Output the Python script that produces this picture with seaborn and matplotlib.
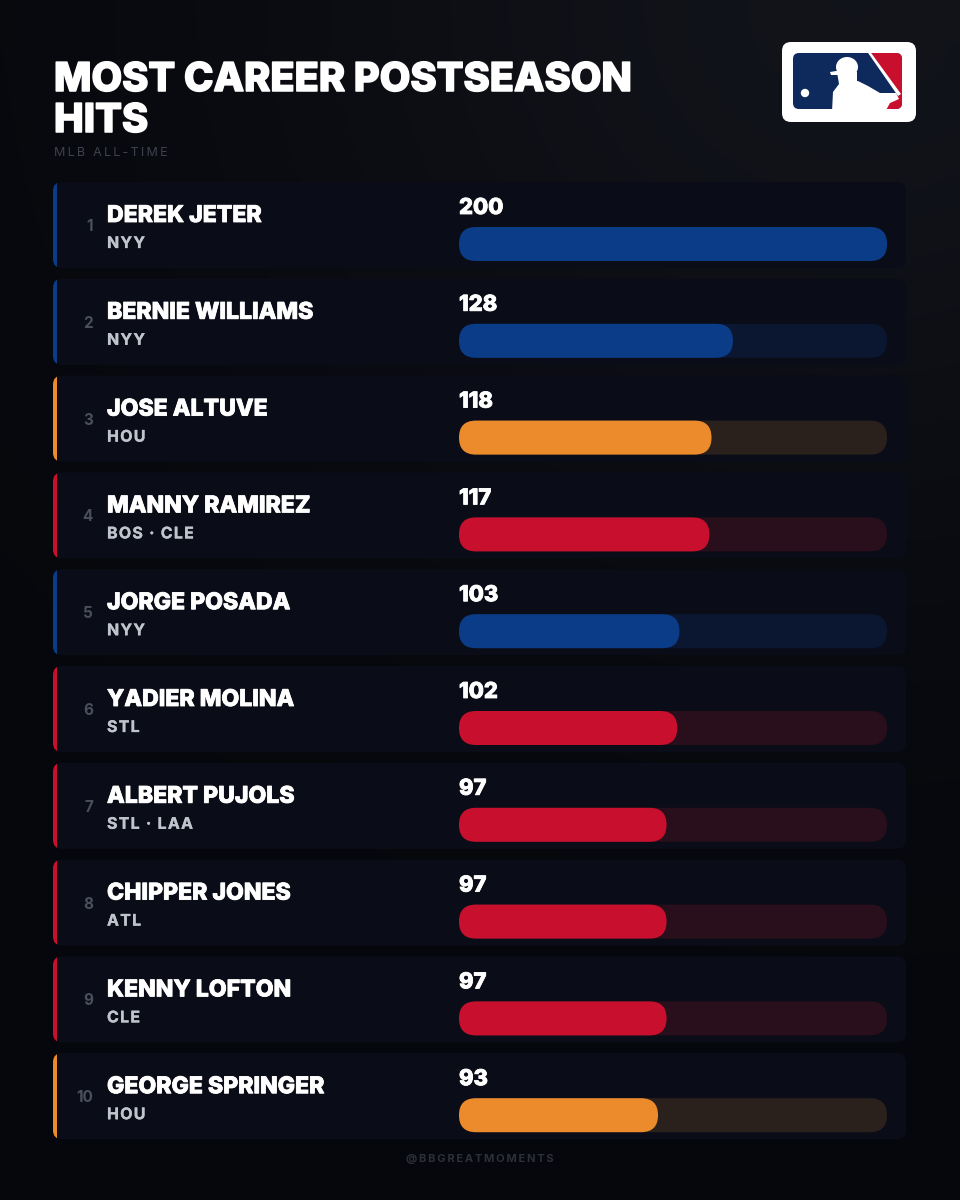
import numpy as np
import pandas as pd
import matplotlib
matplotlib.use("Agg")
import matplotlib.pyplot as plt
import matplotlib.patheffects as pe
import seaborn as sns
from matplotlib.patches import FancyBboxPatch, Circle, Ellipse, Polygon, Rectangle

# ---------------- data ----------------
ranks = [1, 2, 3, 4, 5, 6, 7, 8, 9, 10]
players = ["DEREK JETER", "BERNIE WILLIAMS", "JOSE ALTUVE", "MANNY RAMIREZ",
           "JORGE POSADA", "YADIER MOLINA", "ALBERT PUJOLS", "CHIPPER JONES",
           "KENNY LOFTON", "GEORGE SPRINGER"]
teams = ["NYY", "NYY", "HOU", "BOS · CLE", "NYY", "STL", "STL · LAA", "ATL",
         "CLE", "HOU"]
hits = [200, 128, 118, 117, 103, 102, 97, 97, 97, 93]
color_group = ["blue", "blue", "orange", "red", "blue", "red", "red", "red",
               "red", "orange"]
title_lines = ["MOST CAREER POSTSEASON", "HITS"]
subtitle = "MLB ALL-TIME"
credit = "@BBGREATMOMENTS"

fill_colors = {"blue": "#0b3c88", "orange": "#ec8b2c", "red": "#c8102e"}
track_colors = {"blue": "#0b1730", "orange": "#2a201c", "red": "#290e1b"}
CARD = "#0a0d18"

sns.set_theme(style="dark")
plt.rcParams["font.family"] = ["Inter", "DejaVu Sans"]

W, H = 960, 1200
fig = plt.figure(figsize=(9.6, 12), dpi=100)

def thick(lw, color="white"):
    return [pe.withStroke(linewidth=lw, foreground=color)]

# background layer in pixel coordinates
bg = fig.add_axes([0, 0, 1, 1])
bg.set_xlim(0, W)
bg.set_ylim(H, 0)
bg.axis("off")
yy, xx = np.mgrid[0:120, 0:96]
dark = np.array([0.025, 0.029, 0.047])
light = np.array([0.068, 0.076, 0.102])
w = np.exp(-(((xx - 85) / 60.0) ** 2 + ((yy - 0) / 55.0) ** 2))
grad = dark[None, None, :] + (light - dark)[None, None, :] * w[:, :, None]
bg.imshow(grad, extent=(0, W, H, 0), aspect="auto", zorder=0, interpolation="bicubic")

PITCH = 96.8
CARD_TOP0 = 182
CARD_H = 86
for i in range(len(players)):
    top = CARD_TOP0 + i * PITCH
    acc = fill_colors[color_group[i]]
    card = FancyBboxPatch((53, top), 853, CARD_H,
                          boxstyle="round,pad=0,rounding_size=9",
                          fc=CARD, ec="none", zorder=1)
    bg.add_patch(card)
    strip = Rectangle((50, top - 2), 7, CARD_H + 4, fc=acc, ec="none", zorder=2)
    bg.add_patch(strip)
    strip.set_clip_path(card)

# title / subtitle
for txt, base in zip(title_lines, [91, 132]):
    bg.text(54, base, txt, fontsize=28.6, weight="heavy", color="white", va="baseline",
            zorder=5, path_effects=thick(1.1))
bg.text(54, 156, "\u2009".join(subtitle), fontsize=9, color="#3d4250", va="baseline", zorder=5)
bg.text(480, 1162, "\u2009".join(credit), fontsize=8, color="#2c303b", va="baseline",
        ha="center", zorder=5, weight="bold")

# logo
logo_bg = FancyBboxPatch((782, 42), 134, 80, boxstyle="round,pad=0,rounding_size=9",
                         fc="white", ec="none", zorder=5)
bg.add_patch(logo_bg)
navy = FancyBboxPatch((793, 53), 109, 56, boxstyle="round,pad=0,rounding_size=6",
                      fc="#0e2a5c", ec="none", zorder=6)
bg.add_patch(navy)
logo_parts = [
    Polygon([(869, 50), (910, 50), (910, 112), (884, 112), (884, 100), (900, 95)],
            closed=True, fc="#c8102e", ec="none", zorder=7),
    Ellipse((847, 67), 22, 20, fc="white", ec="none", zorder=8),
    Polygon([(830, 72), (842, 70), (842, 75), (831, 75)], closed=True, fc="white",
            ec="none", zorder=8),
    Polygon([(837, 72), (857, 72), (857, 84), (839, 84)], closed=True, fc="white",
            ec="none", zorder=8),
    Polygon([(832, 112), (833, 92), (839, 84), (858, 81), (868, 86), (880, 93),
             (896, 93), (899, 99), (890, 103), (885, 112)], closed=True, fc="white",
            ec="none", zorder=8),
    Polygon([(866, 50), (869, 50), (901, 94), (898, 96)], closed=True, fc="white",
            ec="none", zorder=8),
    Circle((805, 93), 4.2, fc="white", ec="none", zorder=8),
]
for p in logo_parts:
    bg.add_patch(p)
    p.set_clip_path(navy)

# ---------------- bars ----------------
ax = fig.add_axes([0, 0, 1, 1], zorder=3)
ax.patch.set_alpha(0)
X0_PX, X1_PX = 459, 887
vmax = max(hits)
px_per_x = (X1_PX - X0_PX) / vmax
px_per_y = PITCH
BAR_PX = 34
bar_h = BAR_PX / px_per_y

df = pd.DataFrame({"player": players, "hits": hits, "group": color_group})
df["track"] = vmax

sns.barplot(data=df, x="track", y="player", hue="player",
            palette={p: track_colors[g] for p, g in zip(players, color_group)},
            width=bar_h, orient="h", legend=False, ax=ax, saturation=1, errorbar=None)
sns.barplot(data=df, x="hits", y="player", hue="player",
            palette={p: fill_colors[g] for p, g in zip(players, color_group)},
            width=bar_h, orient="h", legend=False, ax=ax, saturation=1, errorbar=None)

r = (BAR_PX / 2) / px_per_x
asp = px_per_x / px_per_y
for k, p in enumerate(list(ax.patches)):
    x, y = p.get_x(), p.get_y()
    wdt, hgt = p.get_width(), p.get_height()
    fc = p.get_facecolor()
    p.remove()
    ax.add_patch(FancyBboxPatch((x, y), wdt, hgt,
                                boxstyle=f"round,pad=0,rounding_size={r}",
                                mutation_aspect=asp, fc=fc, ec="none", zorder=2 + (k >= len(players))))

BAR_C0 = 244
ax.set_xlim(-X0_PX / px_per_x, (W - X0_PX) / px_per_x)
ax.set_ylim((H - BAR_C0) / px_per_y, -BAR_C0 / px_per_y)
ax.axis("off")

def px2x(px):
    return (px - X0_PX) / px_per_x

def dy(px):
    return (px - BAR_C0) / px_per_y

for i, (rk, nm, tm, v) in enumerate(zip(ranks, players, teams, hits)):
    ax.text(0, i + dy(214), str(v), fontsize=15.8, weight="heavy", color="white",
            va="baseline", ha="left", zorder=5, path_effects=thick(0.6))
    ax.text(px2x(107), i + dy(222), nm, fontsize=16.6, weight="heavy", color="white",
            va="baseline", ha="left", zorder=5, path_effects=thick(0.6))
    ax.text(px2x(107), i + dy(248), "\u200a".join(tm), fontsize=11.5, weight="bold",
            color="#c0c4cc", va="baseline", ha="left", zorder=5,
            path_effects=thick(0.2, "#c0c4cc"))
    ax.text(px2x(93), i + dy(231), str(rk), fontsize=11, weight="bold", color="#4a4f5d",
            va="baseline", ha="right", zorder=5)

fig.savefig("out.png", dpi=100, facecolor=fig.get_facecolor())
